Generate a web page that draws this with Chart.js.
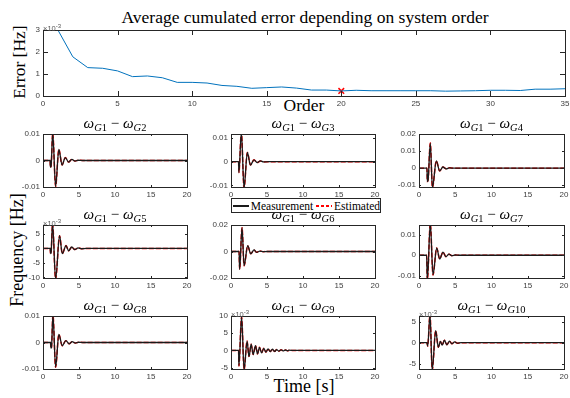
<!DOCTYPE html>
<html>
<head>
<meta charset="utf-8">
<script src="https://cdn.jsdelivr.net/npm/chart.js@4"></script>
<style>
  body { margin: 0; background: #fff; }
  #wrap { position: relative; width: 570px; height: 398px; overflow: hidden; background: #fff; }
  #wrap canvas { position: absolute; }
  .lbl { position: absolute; font-family: 'Liberation Serif', 'DejaVu Serif', serif; color: #000; white-space: nowrap; }
  .mt { font-size: 15px; line-height: 15px; transform: translateX(-50%); }
  .mt sub { font-size: 10.5px; vertical-align: -3px; }
  .exp { position: absolute; font-family: 'Liberation Sans', Arial, sans-serif; font-size: 7.5px; color: #555; line-height: 8px; }
  .exp sup { font-size: 6px; vertical-align: 3px; }
  #legend { position: absolute; left: 231px; top: 198px; width: 148px; height: 13px; border: 1px solid #262626; background: #fff;
            display: flex; align-items: center; font-family: 'Liberation Serif', serif; font-size: 11.5px; z-index: 5; }
  #legend .sw { display: inline-block; width: 19px; height: 2px; margin: 0 2px 0 1px; }
</style>
</head>
<body>
<div id="wrap">
  <div class="lbl" style="left:305px;top:7px;font-size:17.5px;transform:translateX(-50%)">Average cumulated error depending on system order</div>
  <div class="lbl" style="left:304px;top:95px;font-size:17.5px;transform:translateX(-50%)">Order</div>
  <div class="lbl" style="left:19px;top:62px;font-size:17.5px;transform:translate(-50%,-50%) rotate(-90deg)">Error [Hz]</div>
  <div class="lbl" style="left:17px;top:250px;font-size:18px;transform:translate(-50%,-50%) rotate(-90deg)">Frequency [Hz]</div>
  <div class="lbl" style="left:304px;top:376px;font-size:18px;transform:translateX(-50%)">Time [s]</div>
  <div id="legend"></div>
</div>
<script>
// average cumulated error per system order (Hz)
const orders = [1,2,3,4,5,6,7,8,9,10,11,12,13,14,15,16,17,18,19,20,21,22,23,24,25,26,27,28,29,30,31,32,33,34,35];
const avgError = [3.0e-3,1.78e-3,1.29e-3,1.26e-3,1.14e-3,0.88e-3,0.91e-3,0.83e-3,0.62e-3,0.62e-3,0.59e-3,0.48e-3,0.44e-3,0.35e-3,0.38e-3,0.41e-3,0.36e-3,0.27e-3,0.27e-3,0.23e-3,
                  0.26e-3,0.24e-3,0.24e-3,0.24e-3,0.24e-3,0.24e-3,0.22e-3,0.23e-3,0.24e-3,0.26e-3,0.26e-3,0.25e-3,0.31e-3,0.31e-3,0.33e-3];
const bestOrder = 20;
const bestError = 0.23e-3;

// frequency differences [time s, Hz]
const g2 = [[0,0],[1.0,0],[1.02,-0.0025],[1.12,-0.0022],[1.35,0.0104],[1.75,-0.0098],[2.2,0.0042],[2.65,-0.0017],[3.1,0.0011],[3.55,-0.0006],[4.0,0.0004],[4.45,-0.0002],[4.9,0.0001],[5.5,0],[20,0]];
const g3 = [[0,0],[1.05,0],[1.1,-0.0046],[1.44,0.0125],[1.81,-0.0112],[2.27,0.0039],[2.7,-0.0014],[3.2,0.0008],[3.62,-0.0004],[4.08,0.0003],[4.5,-0.0001],[5.2,0],[20,0]];
const g4 = [[0,0],[1.1,0],[1.15,-0.0078],[1.25,-0.007],[1.56,0.0147],[1.85,-0.0114],[2.39,0.0043],[2.85,-0.0016],[3.3,0.0007],[3.75,-0.0004],[4.2,0.0002],[4.8,0],[20,0]];
const g5 = [[0,0],[1.0,0],[1.05,-0.0018],[1.12,-0.0015],[1.33,0.0086],[1.75,-0.0106],[2.3,0.0044],[2.68,-0.0018],[3.2,0.0010],[3.55,-0.0008],[4.0,0.0005],[4.42,-0.0004],[4.87,0.0002],[5.35,-0.0001],[6.0,0],[20,0]];
const g6 = [[0,0],[1.12,0],[1.2,-0.0134],[1.53,0.018],[1.82,-0.0107],[2.32,0.0044],[2.74,-0.0017],[3.2,0.0012],[3.55,-0.0006],[4.0,0.0003],[4.5,-0.0001],[5.0,0],[20,0]];
const g7 = [[0,0],[1.05,0],[1.15,-0.012],[1.56,0.0155],[1.93,-0.0095],[2.44,0.0035],[2.85,-0.0018],[3.31,0.0015],[3.72,-0.0007],[4.14,0.0005],[4.55,-0.0002],[5.0,0.0001],[5.5,0],[20,0]];
const g8 = [[0,0],[1.05,0],[1.1,-0.0021],[1.18,-0.0018],[1.38,0.0105],[1.75,-0.0093],[2.2,0.0031],[2.67,-0.0012],[3.17,0.0007],[3.63,-0.0005],[4.05,0.0003],[4.5,-0.0002],[4.95,0.0001],[5.5,0],[20,0]];
const g9 = [[0,0],[1.05,0],[1.1,-0.0045],[1.47,0.0098],[1.82,-0.0056],[2.23,0.0027],[2.5,-0.0018],[2.8,0.0018],[3.08,-0.0012],[3.4,0.0014],[3.68,-0.001],[3.95,0.0009],[4.25,-0.0007],[4.55,0.0006],
            [4.85,-0.0005],[5.15,0.00045],[5.45,-0.00035],[5.75,0.00035],[6.05,-0.0003],[6.35,0.00025],[6.65,-0.0002],[6.95,0.00018],[7.25,-0.00015],[7.55,0.00012],[7.85,-0.0001],[8.15,0.00008],[8.5,0],[20,0]];
const g10 = [[0,0],[1.1,0],[1.2,-0.0008],[1.52,0.0068],[1.82,-0.0066],[2.3,0.0029],[2.67,-0.0011],[2.95,0.0003],[3.2,-0.0006],[3.5,0.0006],[3.85,-0.0005],[4.2,0.00035],[4.55,-0.00025],[4.9,0.0002],[5.3,-0.0001],[5.8,0],[20,0]];

// y tick values
const yt10 = [-0.01, 0, 0.01];
const yt20 = [-0.02, 0, 0.02];
const yt4 = [-0.01, 0, 0.01, 0.02];
const yt5 = [-0.01, -0.005, 0, 0.005];
const yt9 = [-0.005, 0, 0.005, 0.01];
const yt10m = [-0.005, 0, 0.005];
const ytErr = [0, 0.001, 0.002, 0.003];

const seriesNames = ['Measurement', 'Estimated'];

const PADL = 34, PADT = 4, PADR = 8, PADB = 14;
const wrap = document.getElementById('wrap');
const tickFont = { family: "'Liberation Sans', Arial, sans-serif", size: 8 };

const boxPlugin = {
  id: 'box',
  afterDatasetsDraw(chart, args, opts) {
    const { ctx, chartArea: a, scales } = chart;
    const len = opts.tick || 2;
    ctx.save();
    ctx.strokeStyle = '#262626';
    ctx.lineWidth = 1;
    ctx.beginPath();
    scales.x.ticks.forEach(t => {
      const px = Math.round(scales.x.getPixelForValue(t.value)) + 0.5;
      ctx.moveTo(px, a.bottom); ctx.lineTo(px, a.bottom - len);
      ctx.moveTo(px, a.top); ctx.lineTo(px, a.top + len);
    });
    scales.y.ticks.forEach(t => {
      const py = Math.round(scales.y.getPixelForValue(t.value)) + 0.5;
      ctx.moveTo(a.left, py); ctx.lineTo(a.left + len, py);
      ctx.moveTo(a.right, py); ctx.lineTo(a.right - len, py);
    });
    ctx.stroke();
    ctx.strokeRect(Math.round(a.left) + 0.5, Math.round(a.top) + 0.5, Math.round(a.right - a.left), Math.round(a.bottom - a.top));
    ctx.restore();
  }
};

function fmt(v) { return String(+v.toFixed(4)); }

function makePanel(box, datasets, xmax, xstep, ymin, ymax, yticks, factor, tickLen) {
  const [l, t, r, b] = box;
  const c = document.createElement('canvas');
  c.width = r - l + PADL + PADR;
  c.height = b - t + PADT + PADB;
  c.style.left = (l - PADL) + 'px';
  c.style.top = (t - PADT) + 'px';
  wrap.appendChild(c);
  if (factor !== 1) {
    const e = document.createElement('div');
    e.className = 'exp';
    e.style.left = l + 'px';
    e.style.top = (t - 8) + 'px';
    e.innerHTML = '×10<sup>-3</sup>';
    wrap.appendChild(e);
  }
  return new Chart(c, {
    type: 'line',
    data: { datasets: datasets },
    plugins: [boxPlugin],
    options: {
      responsive: false,
      animation: false,
      layout: { padding: { top: PADT, right: PADR, left: 0, bottom: 0 }, autoPadding: false },
      plugins: { legend: { display: false }, tooltip: { enabled: false }, box: { tick: tickLen } },
      elements: { point: { radius: 0 } },
      scales: {
        x: {
          type: 'linear', min: 0, max: xmax,
          ticks: { stepSize: xstep, font: tickFont, color: '#404040', padding: 3, maxRotation: 0, autoSkip: false },
          grid: { display: false, drawTicks: false }, border: { display: false },
          afterFit(s) { s.height = PADB; s.paddingLeft = 0; s.paddingRight = 0; }
        },
        y: {
          type: 'linear', min: ymin, max: ymax,
          afterBuildTicks(s) { s.ticks = yticks.map(v => ({ value: v })); },
          ticks: { font: tickFont, color: '#404040', padding: 3, callback: v => fmt(v * factor) },
          grid: { display: false, drawTicks: false }, border: { display: false },
          afterFit(s) { s.width = PADL; s.paddingTop = 0; s.paddingBottom = 0; }
        }
      }
    }
  });
}

function pts(arr) { return arr.map(p => ({ x: p[0], y: p[1] })); }

function freqSets(arr) {
  return [
    { label: seriesNames[0], data: pts(arr), borderColor: '#1a1a1a', borderWidth: 1.3, cubicInterpolationMode: 'monotone' },
    { label: seriesNames[1], data: pts(arr), borderColor: '#ff0000', borderWidth: 1.5, borderDash: [5, 2], cubicInterpolationMode: 'monotone' }
  ];
}

// top panel
makePanel([43, 30, 565, 96], [
  { data: orders.map((o, i) => ({ x: o, y: avgError[i] })), borderColor: '#0072BD', borderWidth: 1 },
  { data: [{ x: bestOrder, y: bestError }], showLine: false, pointStyle: 'crossRot', pointRadius: 4, pointBorderColor: '#ff0000', pointBorderWidth: 1.5 }
], 35, 5, 0, 0.003, ytErr, 1000, 5);

// subplots
const cols = [[43, 187], [231, 375], [419, 564]];
const rows = [[134, 187], [225, 278], [316, 369]];
const panels = [
  ['2', g2, -0.01, 0.01, yt10, 1],
  ['3', g3, -0.0107, 0.0117, yt10, 1],
  ['4', g4, -0.011, 0.02, yt4, 1],
  ['5', g5, -0.0102, 0.0081, yt5, 1000],
  ['6', g6, -0.02, 0.02, yt20, 1],
  ['7', g7, -0.011, 0.0146, yt10, 1],
  ['8', g8, -0.01, 0.01, yt10, 1],
  ['9', g9, -0.0054, 0.01, yt9, 1000],
  ['10', g10, -0.0063, 0.0064, yt10m, 1000]
];
const titleTops = [116, 207, 298];
panels.forEach((p, i) => {
  const c = cols[i % 3], r = rows[Math.floor(i / 3)];
  makePanel([c[0], r[0], c[1], r[1]], freqSets(p[1]), 20, 5, p[2], p[3], p[4], p[5], 2);
  const t = document.createElement('div');
  t.className = 'lbl mt';
  t.style.left = ((c[0] + c[1]) / 2) + 'px';
  t.style.top = titleTops[Math.floor(i / 3)] + 'px';
  t.innerHTML = '<i>ω</i><sub><i>G</i>1</sub> − <i>ω</i><sub><i>G</i>' + p[0] + '</sub>';
  wrap.appendChild(t);
});

// legend
document.getElementById('legend').innerHTML =
  '<span class="sw" style="background:#1a1a1a"></span>' + seriesNames[0] +
  '<span class="sw" style="background:repeating-linear-gradient(90deg,#ff0000 0 3px,transparent 3px 5px);margin-left:3px"></span>' + seriesNames[1];
</script>
</body>
</html>
